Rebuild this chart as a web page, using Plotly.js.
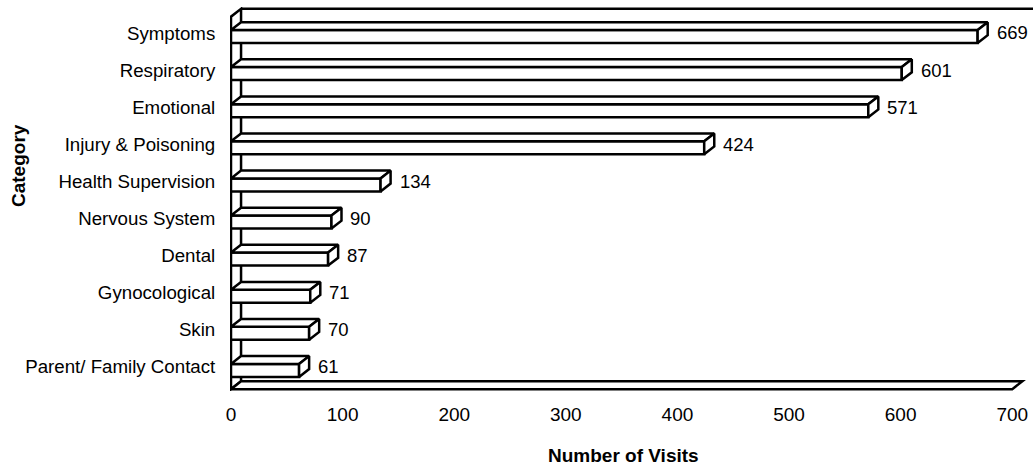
<!DOCTYPE html>
<html>
<head>
<meta charset="utf-8">
<script src="https://cdn.plot.ly/plotly-3.0.1.min.js"></script>
<style>html,body{margin:0;padding:0;background:#fff;}#chart{width:1033px;height:468px;}</style>
</head>
<body>
<div id="chart"></div>
<script>
// Data (bottom to top)
const categories = ["Parent/ Family Contact", "Skin", "Gynocological", "Dental", "Nervous System",
                    "Health Supervision", "Injury & Poisoning", "Emotional", "Respiratory", "Symptoms"];
const visits = [61, 70, 71, 87, 90, 134, 424, 571, 601, 669];
const xTicks = [0, 100, 200, 300, 400, 500, 600, 700];

// 3D look parameters
const DX = 9, DY = 0.21;           // depth offset (x units, category units)
const BOT = -0.27, TOP = 0.08;     // front face extent relative to category position
const FLOOR = -0.6, WALLTOP = 9.65, FLOOREND = 700, XMIN = -0.9, XMAX = 718.6;

const pos = categories.map((_, i) => i);
const FONT = "Liberation Sans, Arial, Helvetica, sans-serif";
const LW = 2.5;

// front faces
const front = {
  type: "bar", orientation: "h", x: visits, y: pos,
  width: 0.35, offset: BOT,
  marker: {color: "#ffffff", line: {color: "#000000", width: LW}},
  hoverinfo: "skip", showlegend: false
};

// top faces and end faces as polygons
const topX = [], topY = [], endX = [], endY = [];
visits.forEach((v, i) => {
  const c = pos[i];
  topX.push(0, v, v + DX, DX, 0, null);
  topY.push(c + TOP, c + TOP, c + TOP + DY, c + TOP + DY, c + TOP, null);
  endX.push(v, v, v + DX, v + DX, v, null);
  endY.push(c + BOT, c + TOP, c + TOP + DY, c + BOT + DY, c + BOT, null);
});
const polyStyle = {type: "scatter", mode: "lines", fill: "toself", fillcolor: "#ffffff",
  line: {color: "#000000", width: LW}, hoverinfo: "skip", showlegend: false};
const tops = Object.assign({x: topX, y: topY}, polyStyle);
const ends = Object.assign({x: endX, y: endY}, polyStyle);

// value labels
const labels = visits.map((v, i) => ({
  x: v + DX, y: pos[i], xref: "x", yref: "y", text: String(v),
  showarrow: false, xanchor: "left", yanchor: "middle", xshift: 7,
  font: {family: FONT, size: 18.5, color: "#000"}
}));

const shapes = [
  // left wall
  {type: "path", xref: "x", yref: "y", layer: "below",
   path: `M0,${FLOOR} L0,${WALLTOP - DY} L${DX},${WALLTOP} L${DX},${FLOOR + DY} Z`,
   fillcolor: "#ffffff", line: {color: "#000", width: LW}},
  // back wall top edge
  {type: "line", xref: "x", yref: "y", layer: "below",
   x0: DX, x1: XMAX, y0: WALLTOP, y1: WALLTOP, line: {color: "#000", width: LW}},
  // floor
  {type: "path", xref: "x", yref: "y", layer: "below",
   path: `M0,${FLOOR} L${FLOOREND},${FLOOR} L${FLOOREND + DX},${FLOOR + DY} L${DX},${FLOOR + DY} Z`,
   fillcolor: "#ffffff", line: {color: "#000", width: LW}}
];

const annotations = labels.concat([
  {xref: "paper", yref: "paper", x: (623 - 230) / 803, y: -(455 - 391) / 384,
   text: "<b>Number of Visits</b>", showarrow: false, xanchor: "center", yanchor: "middle",
   font: {family: FONT, size: 19, color: "#000"}},
  {xref: "paper", yref: "paper", x: -(230 - 18) / 803, y: (391 - 166) / 384,
   text: "<b>Category</b>", showarrow: false, textangle: -90, xanchor: "center", yanchor: "middle",
   font: {family: FONT, size: 19, color: "#000"}}
]);

const layout = {
  width: 1033, height: 468,
  margin: {l: 230, r: 0, t: 7, b: 77, pad: 0},
  paper_bgcolor: "#ffffff", plot_bgcolor: "#ffffff",
  showlegend: false,
  xaxis: {range: [XMIN, XMAX], tickvals: xTicks, ticktext: xTicks.map(String),
          showgrid: false, zeroline: false, showline: false,
          ticks: "outside", ticklen: 6, tickcolor: "rgba(0,0,0,0)",
          tickfont: {family: FONT, size: 19, color: "#000"}, fixedrange: true},
  yaxis: {range: [-0.65, 9.7], tickvals: pos, ticktext: categories,
          showgrid: false, zeroline: false, showline: false,
          ticks: "outside", ticklen: 10, tickcolor: "rgba(0,0,0,0)",
          tickfont: {family: FONT, size: 18.7, color: "#000"}, fixedrange: true},
  shapes: shapes,
  annotations: annotations
};

Plotly.newPlot("chart", [front, tops, ends], layout, {displayModeBar: false, staticPlot: true});
</script>
</body>
</html>
